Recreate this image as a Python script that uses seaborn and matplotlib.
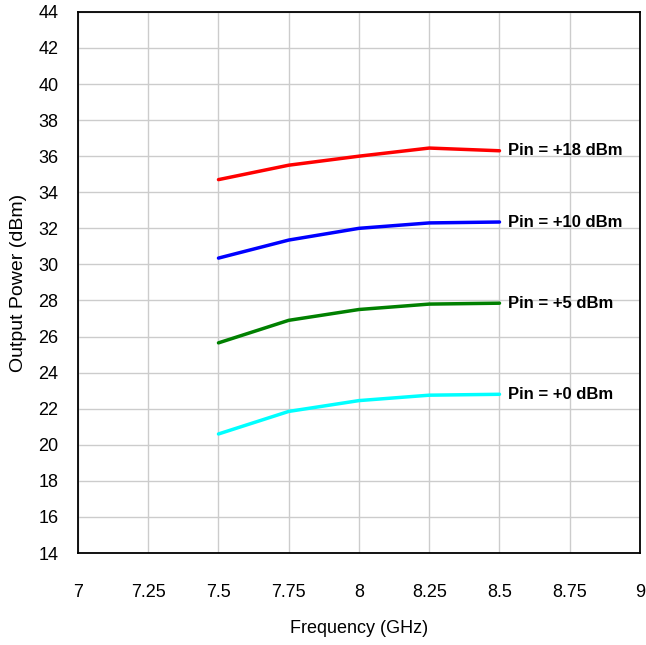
import pandas as pd
import matplotlib
matplotlib.use('Agg')
import matplotlib.pyplot as plt
import seaborn as sns

# Values
frequency = [7.5, 7.75, 8.0, 8.25, 8.5]
pout_18 = [34.7, 35.5, 36.0, 36.45, 36.3]
pout_10 = [30.35, 31.35, 32.0, 32.3, 32.35]
pout_5 = [25.65, 26.9, 27.5, 27.8, 27.85]
pout_0 = [20.6, 21.85, 22.45, 22.75, 22.8]

series_labels = ['Pin = +18 dBm', 'Pin = +10 dBm', 'Pin = +5 dBm', 'Pin = +0 dBm']
series_colors = ['#ff0000', '#0000ff', '#008000', '#00ffff']

x_ticks = [7, 7.25, 7.5, 7.75, 8, 8.25, 8.5, 8.75, 9]
x_tick_labels = ['7', '7.25', '7.5', '7.75', '8', '8.25', '8.5', '8.75', '9']
y_ticks = list(range(14, 45, 2))

# long-form table for seaborn
rows = []
for label, values in zip(series_labels, [pout_18, pout_10, pout_5, pout_0]):
    for f, p in zip(frequency, values):
        rows.append({'freq': f, 'pout': p, 'series': label})
df = pd.DataFrame(rows)

sns.set_style('white')
plt.rcParams['font.family'] = ['Liberation Sans', 'DejaVu Sans']
plt.rcParams['text.color'] = 'black'
plt.rcParams['axes.labelcolor'] = 'black'
plt.rcParams['xtick.color'] = 'black'
plt.rcParams['ytick.color'] = 'black'

fig = plt.figure(figsize=(6.46, 6.45), dpi=100)
ax = fig.add_axes([0.1207, 0.1426, 0.870, 0.839])

sns.lineplot(data=df, x='freq', y='pout', hue='series', hue_order=series_labels,
             palette=series_colors, linewidth=2.5, legend=False, ax=ax, zorder=3)

# labels at the right end of each curve
for label, values in zip(series_labels, [pout_18, pout_10, pout_5, pout_0]):
    ax.annotate(label, xy=(frequency[-1], values[-1]), xytext=(6, 0),
                textcoords='offset points', va='center', ha='left',
                fontsize=12, fontweight='bold', color='black')

ax.set_xlim(7, 9)
ax.set_ylim(14, 44)
ax.set_xticks(x_ticks)
ax.set_xticklabels(x_tick_labels)
ax.set_yticks(y_ticks)
ax.grid(True, color='#cccccc', linewidth=1.0)
ax.set_axisbelow(True)
for spine in ax.spines.values():
    spine.set_color('black')
    spine.set_linewidth(1.3)
ax.tick_params(axis='x', length=0, pad=22, labelsize=13)
ax.tick_params(axis='y', length=0, pad=14, labelsize=13)

ax.set_xlabel('Frequency (GHz)', fontsize=13, labelpad=14)
ax.set_ylabel('Output Power (dBm)', fontsize=14, labelpad=8)

fig.savefig('out.png', dpi=100)
